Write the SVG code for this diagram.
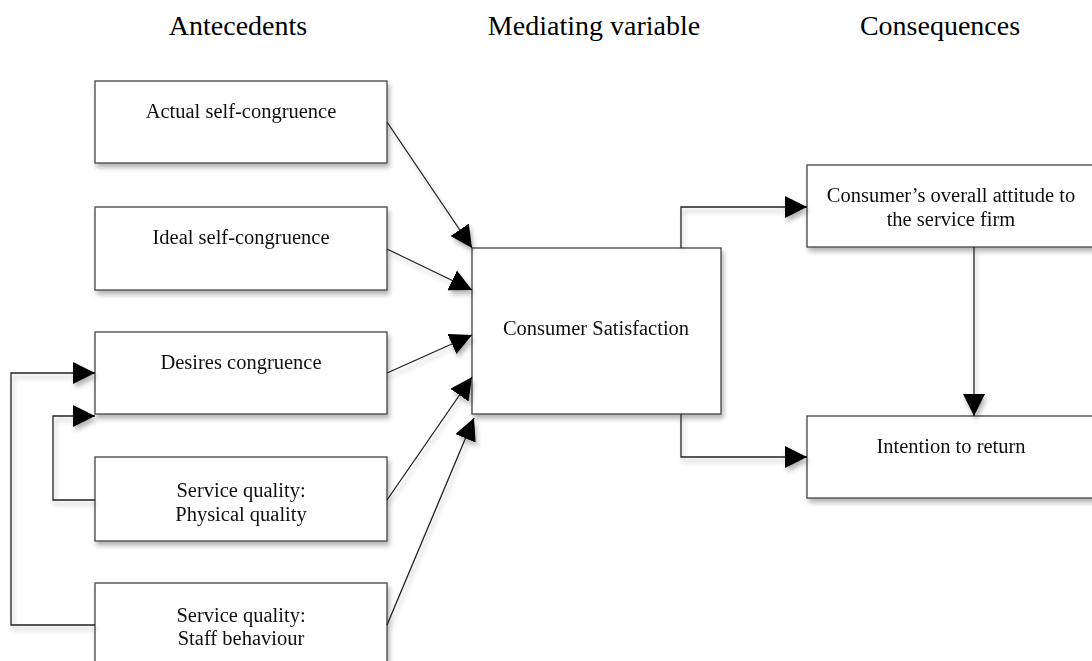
<svg xmlns="http://www.w3.org/2000/svg" width="1092" height="661" viewBox="0 0 1092 661">
<defs>
<filter id="sh" x="-10%" y="-10%" width="130%" height="140%">
<feGaussianBlur in="SourceAlpha" stdDeviation="2.5"/>
<feOffset dx="2" dy="4" result="b"/>
<feComponentTransfer><feFuncA type="linear" slope="0.3"/></feComponentTransfer>
<feMerge><feMergeNode/><feMergeNode in="SourceGraphic"/></feMerge>
</filter>
<marker id="ah" viewBox="0 0 10 10" refX="10" refY="5" markerWidth="22" markerHeight="22" markerUnits="userSpaceOnUse" orient="auto">
<path d="M0,0 L10,5 L0,10 z" fill="#000"/>
</marker>
</defs>
<style>
.box{fill:#fff;stroke:#444;stroke-width:1.3}
.t{font-family:"Liberation Serif","Times New Roman",serif;font-size:20.5px;fill:#111;text-anchor:middle}
.h{font-family:"Liberation Serif","Times New Roman",serif;font-size:28px;fill:#000;text-anchor:middle}
.c{fill:none;stroke:#222;stroke-width:1.3;marker-end:url(#ah)}
</style>
<rect width="1092" height="661" fill="#fff"/>
<g id="headings">
<text class="h" x="238" y="35">Antecedents</text>
<text class="h" x="594" y="35">Mediating variable</text>
<text class="h" x="940" y="35">Consequences</text>
</g>
<g id="n1" filter="url(#sh)"><rect class="box" x="95" y="81" width="292" height="82"/><text class="t" x="241" y="118">Actual self-congruence</text></g>
<g id="n2" filter="url(#sh)"><rect class="box" x="95" y="207" width="292" height="83"/><text class="t" x="241" y="244">Ideal self-congruence</text></g>
<g id="n3" filter="url(#sh)"><rect class="box" x="95" y="332" width="292" height="82"/><text class="t" x="241" y="369">Desires congruence</text></g>
<g id="n4" filter="url(#sh)"><rect class="box" x="95" y="457" width="292" height="84"/><text class="t" x="241" y="497">Service quality:</text><text class="t" x="241" y="521">Physical quality</text></g>
<g id="n5" filter="url(#sh)"><rect class="box" x="95" y="583" width="292" height="84"/><text class="t" x="241" y="622">Service quality:</text><text class="t" x="241" y="645">Staff behaviour</text></g>
<g id="n6" filter="url(#sh)"><rect class="box" x="472" y="248" width="249" height="166"/><text class="t" x="596" y="335">Consumer Satisfaction</text></g>
<g id="n7" filter="url(#sh)"><rect class="box" x="807" y="165" width="300" height="82"/><text class="t" x="951" y="202">Consumer’s overall attitude to</text><text class="t" x="951" y="226">the service firm</text></g>
<g id="n8" filter="url(#sh)"><rect class="box" x="807" y="416" width="300" height="82"/><text class="t" x="951" y="453">Intention to return</text></g>
<g id="connectors" filter="url(#sh)">
<line class="c" x1="387" y1="122" x2="472" y2="248"/>
<line class="c" x1="387" y1="249" x2="472" y2="290"/>
<line class="c" x1="387" y1="373" x2="472" y2="335"/>
<line class="c" x1="387" y1="500" x2="472" y2="377"/>
<line class="c" x1="387" y1="625" x2="474" y2="418"/>
<polyline class="c" points="95,500 53,500 53,416 95,416"/>
<polyline class="c" points="95,625 11,625 11,373 95,373"/>
<polyline class="c" points="681,248 681,207 807,207"/>
<polyline class="c" points="681,414 681,457 807,457"/>
<line class="c" x1="974" y1="247" x2="974" y2="416"/>
</g>
</svg>
